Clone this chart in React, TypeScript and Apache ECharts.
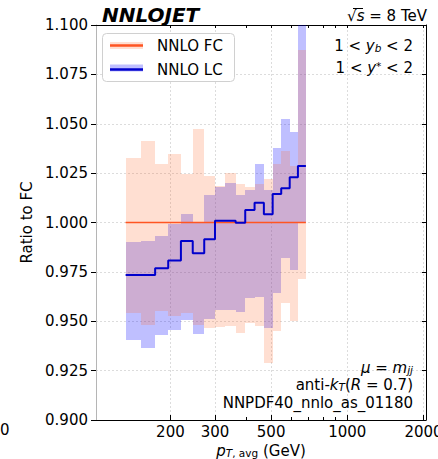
import React, { useEffect, useRef } from 'react';
import * as echarts from 'echarts';

// pT,avg bin edges (GeV)
const binEdges = [133, 153, 174, 196, 220, 245, 272, 300, 330, 362, 395, 430, 468, 507, 548, 592, 638, 686];
// NNLO LC / NNLO FC central ratio per bin
const lcCentral = [0.9734, 0.9734, 0.9768, 0.9807, 0.9906, 0.9844, 0.9915, 1.0009, 1.0009, 0.9999, 1.0063, 1.0100, 1.0042, 1.0144, 1.0173, 1.0229, 1.0286];
const lcUpper = [0.9903, 0.9908, 0.9932, 0.9990, 1.0043, 1.0005, 1.0139, 1.0181, 1.0198, 1.0139, 1.0165, 1.0296, 1.0165, 1.0376, 1.0523, 1.0460, 1.1200];
const lcLower = [0.9405, 0.9363, 0.9430, 0.9456, 0.9506, 0.9435, 0.9510, 0.9557, 0.9557, 0.9548, 0.9616, 0.9621, 0.9464, 0.9645, 0.9819, 0.9759, 1.0000];
// NNLO FC reference (=1) and its scale band
const fcCentral = 1.0;
const fcUpper = [1.0328, 1.0411, 1.0298, 1.0345, 1.0246, 1.0473, 1.0237, 1.0185, 1.0249, 1.0195, 1.0181, 1.0195, 1.0219, 1.0296, 1.0362, 1.0286, 1.0873];
const fcLower = [0.9543, 0.9481, 0.9553, 0.9527, 0.9543, 0.9481, 0.9464, 0.9472, 0.9476, 0.9442, 0.9493, 0.9474, 0.9287, 0.9452, 0.9594, 0.9503, 0.9712];
// axis ticks
const xLabelTicks = [200, 300, 500, 1000, 2000];
const xMinorTicks = [400, 600, 700, 800, 900];
const xGridTicks = [200, 300, 500, 1000, 2000];
const X_MIN = 101.6;
const X_MAX = 2046;
const Y_MIN = 0.9;
const Y_MAX = 1.1;
const Y_STEP = 0.025;

const FONT = 'DejaVu Sans';
const lg = (v: number) => Math.log10(v);

const bandData = (lo: number[], hi: number[]) =>
  lo.map((l, i) => [lg(binEdges[i]), lg(binEdges[i + 1]), l, hi[i]]);

const stepData = (vals: number[]) => {
  const pts = vals.map((v, i) => [lg(binEdges[i]), v]);
  pts.push([lg(binEdges[binEdges.length - 1]), vals[vals.length - 1]]);
  return pts;
};

const bandRender = (fill: string) => (params: any, api: any) => {
  const x0 = api.value(0), x1 = api.value(1), lo = api.value(2), hi = api.value(3);
  const p0 = api.coord([x0, hi]);
  const p1 = api.coord([x1, lo]);
  const X0 = Math.round(p0[0]), X1 = Math.round(p1[0]);
  const Y0 = Math.round(p0[1]), Y1 = Math.round(p1[1]);
  return {
    type: 'rect',
    shape: { x: X0, y: Y0, width: X1 - X0, height: Y1 - Y0 },
    style: { fill },
  };
};

const rich = {
  n: { fontSize: 15, fontFamily: FONT, color: '#000', lineHeight: 15, verticalAlign: 'middle' },
  i: { fontSize: 15, fontFamily: FONT, fontStyle: 'italic', color: '#000', lineHeight: 15, verticalAlign: 'middle' },
  s: { fontSize: 10.5, fontFamily: FONT, color: '#000', lineHeight: 9, verticalAlign: 'bottom' },
  si: { fontSize: 10.5, fontFamily: FONT, fontStyle: 'italic', color: '#000', lineHeight: 9, verticalAlign: 'bottom' },
  sup: { fontSize: 10.5, fontFamily: FONT, color: '#000', lineHeight: 9, verticalAlign: 'top' },
};

const LC_BAND = 'rgba(0,0,255,0.25)';
const FC_BAND = 'rgba(255,110,50,0.22)';
const FC_LINE = '#ff5522';
const LC_LINE = '#0000cc';

export default function App() {
  const ref = useRef<HTMLDivElement>(null);
  useEffect(() => {
    if (!ref.current) return;
    const chart = echarts.init(ref.current, null, { renderer: 'svg' });
    const xRange = { min: lg(X_MIN), max: lg(X_MAX) };
    const hiddenX = {
      type: 'value', gridIndex: 0, ...xRange,
      axisLabel: { show: false }, splitLine: { show: false },
    };
    chart.setOption({
      animation: false,
      backgroundColor: '#fff',
      grid: { left: 96, right: 12, top: 25, bottom: 39, containLabel: false, outerBoundsMode: 'none' },
      legend: {
        data: [
          { name: 'NNLO FC', icon: 'rect' },
          { name: 'NNLO LC', icon: 'rect' },
        ],
        z: 30,
        orient: 'vertical',
        left: 110,
        top: 38,
        padding: 0,
        itemWidth: 33,
        itemHeight: 2.5,
        itemGap: 9,
        textStyle: { fontSize: 15, lineHeight: 14, fontFamily: FONT, color: '#000', padding: [0, 0, 0, 9] },
        selectedMode: false,
      },
      xAxis: [
        {
          type: 'value', ...xRange, position: 'bottom',
          name: '{i|p}{si|T}{s|, avg}{n| (GeV)}',
          nameLocation: 'middle', nameGap: 20,
          nameTextStyle: { rich },
          axisLine: { show: true, lineStyle: { color: '#000', width: 1 } },
          axisTick: { show: true, inside: true, length: 5, customValues: xLabelTicks.map(lg), lineStyle: { color: '#000' } },
          axisLabel: {
            show: true, customValues: xLabelTicks.map(lg), margin: 4,
            fontSize: 15, fontFamily: FONT, color: '#000',
            formatter: (v: number) => String(Math.round(Math.pow(10, v))),
          },
          splitLine: { show: false },
        },
        {
          ...hiddenX, position: 'bottom',
          axisLine: { show: false },
          axisTick: { show: true, inside: true, length: 3, customValues: xMinorTicks.map(lg), lineStyle: { color: '#000' } },
        },
        {
          ...hiddenX, position: 'top',
          axisLine: { show: true, lineStyle: { color: '#000', width: 1 } },
          axisTick: { show: true, inside: true, length: 3, customValues: [...xLabelTicks, ...xMinorTicks].map(lg), lineStyle: { color: '#000' } },
        },
      ],
      yAxis: [
        {
          type: 'value', min: Y_MIN, max: Y_MAX, interval: Y_STEP, position: 'left',
          name: 'Ratio to FC', nameLocation: 'middle', nameGap: 56,
          nameTextStyle: { fontSize: 15, fontFamily: FONT, color: '#000' },
          axisLine: { show: true, lineStyle: { color: '#b5b5b5', width: 1 } },
          axisTick: { show: true, inside: false, length: 5, lineStyle: { color: '#000' } },
          axisLabel: { fontSize: 15, fontFamily: FONT, color: '#000', margin: 8, formatter: (v: number) => v.toFixed(3) },
          splitLine: { show: true, lineStyle: { color: '#dcdcdc', type: [2, 2], width: 1 } },
        },
        {
          type: 'value', min: Y_MIN, max: Y_MAX, interval: Y_STEP, position: 'right',
          axisLine: { show: true, lineStyle: { color: '#000', width: 1 } },
          axisTick: { show: true, inside: true, length: 4, lineStyle: { color: '#000' } },
          axisLabel: { show: false },
          splitLine: { show: false },
        },
      ],
      series: [
        {
          name: 'grid', type: 'line', xAxisIndex: 0, yAxisIndex: 0, z: 0,
          data: [[lg(X_MIN), Y_MIN]], symbol: 'none', lineStyle: { opacity: 0 },
          silent: true,
          markLine: {
            silent: true, symbol: 'none', label: { show: false }, z: 0,
            lineStyle: { color: '#dcdcdc', type: [2, 2], width: 1 },
            data: xGridTicks.map((t) => ({ xAxis: lg(t) })),
          },
        },
        {
          name: 'LC band', type: 'custom', xAxisIndex: 0, yAxisIndex: 0, z: 1, clip: true,
          renderItem: bandRender(LC_BAND),
          encode: { x: [0, 1], y: [2, 3] },
          data: bandData(lcLower, lcUpper),
        },
        {
          name: 'FC band', type: 'custom', xAxisIndex: 0, yAxisIndex: 0, z: 2, clip: true,
          renderItem: bandRender(FC_BAND),
          encode: { x: [0, 1], y: [2, 3] },
          data: bandData(fcLower, fcUpper),
        },
        {
          name: 'NNLO FC', type: 'line', xAxisIndex: 0, yAxisIndex: 0, z: 3,
          data: stepData(fcLower.map(() => fcCentral)), step: 'end',
          symbol: 'none', color: FC_LINE,
          lineStyle: { color: FC_LINE, width: 1.6 },
        },
        {
          name: 'NNLO LC', type: 'line', xAxisIndex: 0, yAxisIndex: 0, z: 4,
          data: stepData(lcCentral), step: 'end',
          symbol: 'none', color: LC_LINE,
          lineStyle: { color: LC_LINE, width: 2 },
        },
      ],
      graphic: [
        { type: 'rect', z: 20, shape: { x: 102.5, y: 33.5, width: 132, height: 48, r: 4 }, style: { fill: '#fff', stroke: '#d0d0d0', lineWidth: 1 } },
        { type: 'rect', z: 21, shape: { x: 110, y: 42, width: 33, height: 7 }, style: { fill: FC_BAND } },
        { type: 'rect', z: 21, shape: { x: 110, y: 64.5, width: 33, height: 7 }, style: { fill: LC_BAND } },
        { type: 'text', z: 25, x: 102, y: 15, style: { text: 'NNLOJET', fontSize: 20, fontWeight: 'bold', fontStyle: 'italic', fontFamily: FONT, fill: '#000', verticalAlign: 'middle', align: 'left' } },
        { type: 'text', z: 25, x: 427, y: 16, style: { text: '{n|√}{i|s}{n| = 8 TeV}', rich, align: 'right', verticalAlign: 'middle' } },
        { type: 'line', z: 25, shape: { x1: 353, y1: 8.5, x2: 363, y2: 8.5 }, style: { stroke: '#000', lineWidth: 1 } },
        { type: 'text', z: 25, x: 413, y: 46, style: { text: '{n|1 < }{i|y}{si|b}{n| < 2}', rich, align: 'right', verticalAlign: 'middle' } },
        { type: 'text', z: 25, x: 413, y: 68, style: { text: '{n|1 < }{i|y}{sup|*}{n| < 2}', rich, align: 'right', verticalAlign: 'middle' } },
        { type: 'text', z: 25, x: 413, y: 368, style: { text: '{i|μ}{n| = }{i|m}{si|jj}', rich, align: 'right', verticalAlign: 'middle' } },
        { type: 'text', z: 25, x: 413, y: 385, style: { text: '{n|anti-}{i|k}{si|T}{n|(}{i|R}{n| = 0.7)}', rich, align: 'right', verticalAlign: 'middle' } },
        { type: 'text', z: 25, x: 413, y: 403, style: { text: 'NNPDF40_nnlo_as_01180', fontSize: 15, lineHeight: 15, fontFamily: FONT, fill: '#000', align: 'right', verticalAlign: 'middle' } },
        { type: 'text', z: 25, x: 0, y: 430, style: { text: '0', fontSize: 15, fontFamily: FONT, fill: '#000', align: 'left', verticalAlign: 'middle' } },
      ],
    });
    return () => chart.dispose();
  }, []);
  return <div ref={ref} style={{ width: 438, height: 459, position: 'absolute', left: 0, top: 0 }} />;
}
